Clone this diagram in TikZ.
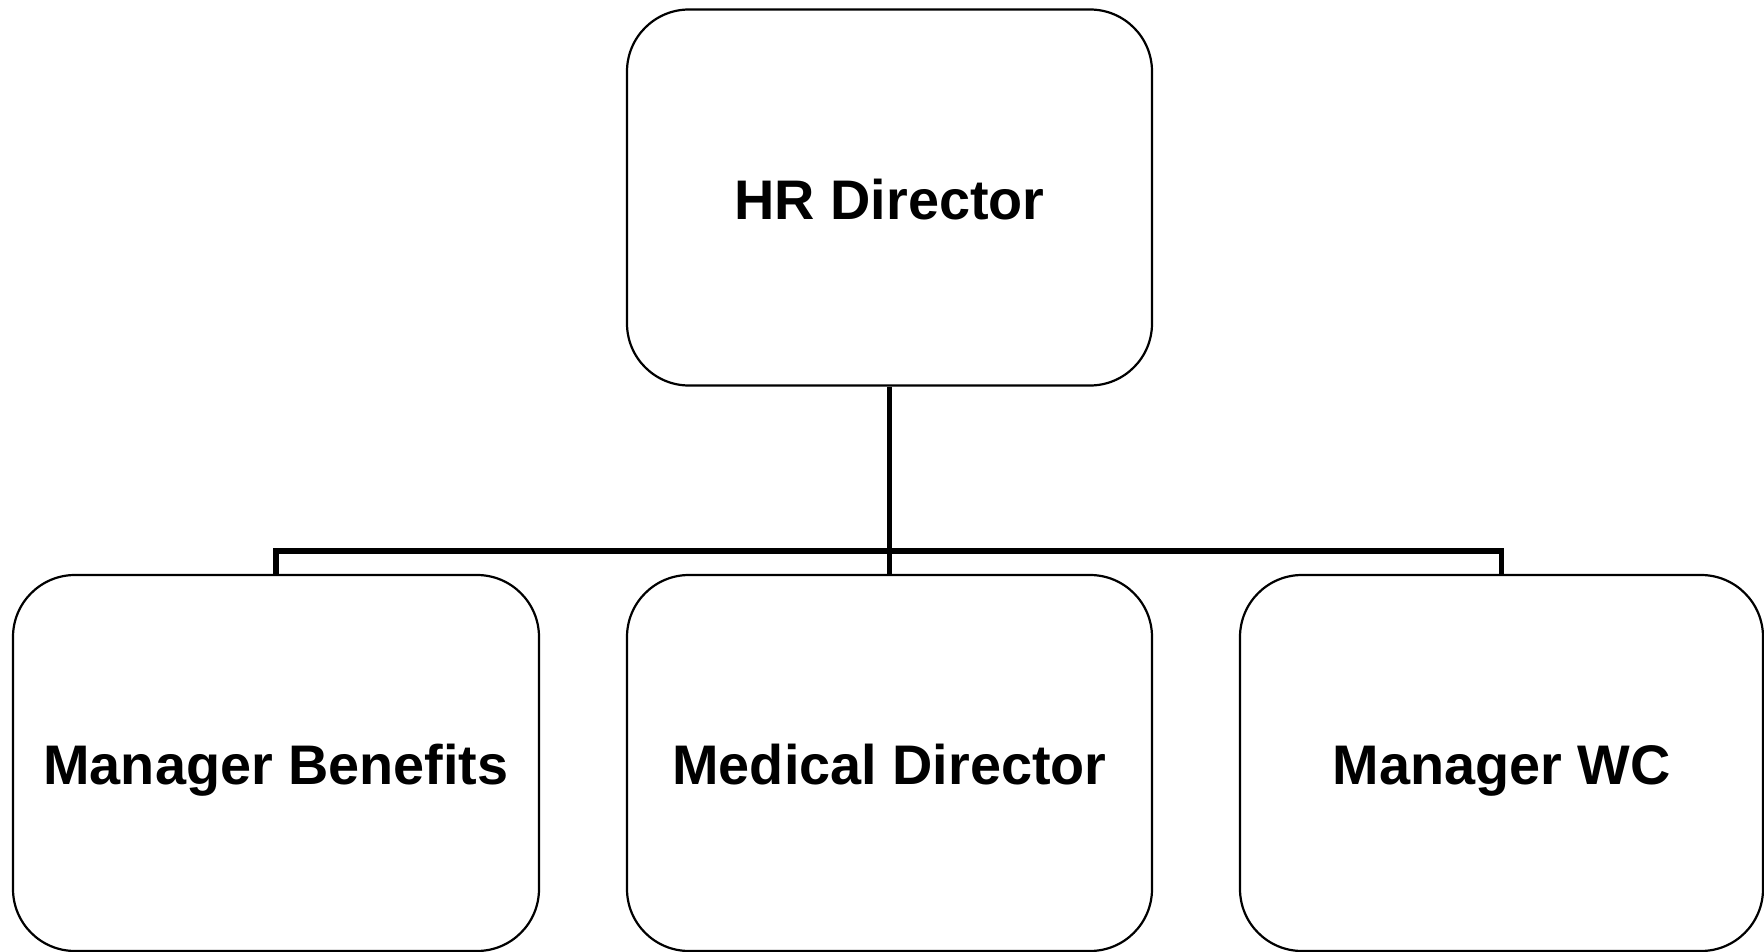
\documentclass[tikz,border=0pt]{standalone}
\usepackage{fontspec}
\setmainfont{Liberation Sans}
\begin{document}
\begin{tikzpicture}[x=1pt,y=1pt,
  orgbox/.style={draw=black,line width=2.2pt,rounded corners=62pt,fill=white,
    minimum width=525pt,minimum height=376pt,inner sep=0pt,
    text height=43pt,text depth=0pt,
    font=\fontsize{55.8}{66}\selectfont\bfseries},
  link/.style={draw=black,line width=5.2pt,line join=miter}]
\useasboundingbox (0,0) rectangle (1764,-952);
\fill[white] (0,0) rectangle (1764,-952);
\coordinate (bus) at (0,-551);
\node[orgbox] (top) at (889.5,-197.5) {HR Director};
\node[orgbox,minimum width=526pt] (left) at (276,-763) {Manager Benefits};
\node[orgbox] (mid) at (889.5,-763) {Medical Director};
\node[orgbox,minimum width=523pt] (right) at (1501.5,-763) {Manager WC};
\draw[link] (top.south) -- (mid.north);
\draw[link] (left.north) -- (left.north |- bus) -- (right.north |- bus) -- (right.north);
\end{tikzpicture}
\end{document}
